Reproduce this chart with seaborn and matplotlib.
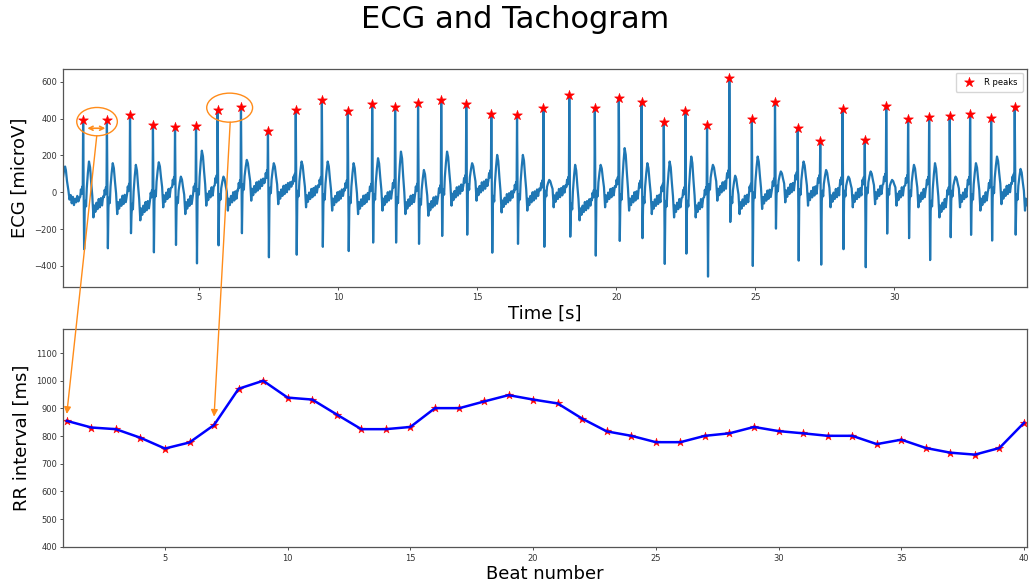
import numpy as np
import pandas as pd
import matplotlib
matplotlib.use("Agg")
import matplotlib.pyplot as plt
import seaborn as sns
from matplotlib.patches import Ellipse, ConnectionPatch

# ---------------------------------------------------------------- data
# RR intervals between consecutive R peaks (ms), beats 1..40
rr_ms = [855, 831, 825, 794, 755, 777, 840, 971, 1000, 939,
         932, 878, 825, 825, 833, 901, 901, 925, 948, 932,
         918, 863, 817, 801, 778, 778, 801, 810, 833, 818,
         810, 801, 801, 771, 787, 757, 740, 733, 757, 848]
beat_numbers = list(range(1, len(rr_ms) + 1))

# time of the first detected R peak (s)
first_r_s = 0.82

# R peak amplitudes (microV)
r_amp = [395, 395, 420, 365, 355, 361, 446, 462, 334, 448,
         499, 444, 482, 466, 488, 499, 479, 428, 419, 459,
         530, 459, 515, 493, 381, 444, 366, 620, 397, 491,
         348, 279, 452, 286, 471, 397, 408, 415, 426, 403, 466]
# S wave troughs (microV)
s_amp = [-310, -305, -223, -327, -287, -387, -289, -223, -354, -340,
         -297, -320, -274, -274, -281, -238, -231, -329, -281, -297,
         -242, -345, -265, -250, -390, -334, -459, -162, -401, -198,
         -372, -394, -310, -408, -225, -250, -369, -245, -232, -263, -231]
# T wave peaks (microV)
t_amp = [167, 158, 149, 163, 85, 226, 85, 176, 158, 167,
         167, 158, 185, 221, 121, 221, 158, 203, 203, 67,
         149, 149, 240, 158, 167, 194, 149, 90, 194, 113,
         167, 121, 85, 113, 67, 149, 158, 85, 158, 194, 127]
# baseline level following each beat (microV)
baseline = [-42, -24, -58, 13, -24, 22, -5, 49, 30, 13,
            -5, -24, -5, -24, -33, 22, 49, -15, -5, 13,
            -58, 13, -5, -24, -42, -42, 49, -24, 4, 40,
            22, 13, 13, 30, 22, 13, -42, 13, -5, 30, -5]

# start of the record, before the first detected beat
lead_in_t = [0.05, 0.10, 0.14, 0.17, 0.20, 0.24, 0.29, 0.33, 0.37,
             0.41, 0.45, 0.49, 0.53, 0.57, 0.61, 0.65, 0.69]
lead_in_v = [60, 85, 125, 140, 120, 60, 10, -40, -15, -60, -25,
             -70, -35, -55, -20, -50, -30]

# shape of one heartbeat around its R peak: offsets (s) and levels
# relative to the surrounding baseline
pre_offsets = [-0.105, -0.08, -0.055, -0.035, -0.015]
pre_levels = [15, 55, 30, 70, 45]
s_offset = 0.035
qrs_offsets = [0.055, 0.08, 0.105]
qrs_levels = [-60, -5, -35]
# T wave: fraction of the T peak height above baseline
t_offsets = [0.13, 0.17, 0.21, 0.25, 0.29, 0.33]
t_fracs = [0.3, 0.7, 1.0, 0.85, 0.45, 0.1]
tail_offsets = [0.37, 0.40, 0.44, 0.48, 0.52, 0.56, 0.60, 0.64,
                0.68, 0.72, 0.76, 0.80, 0.84, 0.88, 0.92]
tail_levels = [-95, -30, -65, -15, -50, 5, -40, 10,
               -30, 20, -15, 25, 0, 30, 5]

# ---------------------------------------------------------------- trace
r_times = first_r_s + np.concatenate([[0.0], np.cumsum(rr_ms) / 1000.0])
t_end = 34.8

ecg_t = list(lead_in_t)
ecg_v = list(lead_in_v)
for k, tr in enumerate(r_times):
    prev_b = baseline[k - 1] if k > 0 else -40
    b = baseline[k]
    for off, lev in zip(pre_offsets, pre_levels):
        ecg_t.append(tr + off); ecg_v.append(prev_b + lev)
    ecg_t.append(tr); ecg_v.append(r_amp[k])
    ecg_t.append(tr + s_offset); ecg_v.append(s_amp[k])
    limit = r_times[k + 1] - 0.115 if k + 1 < len(r_times) else t_end
    for off, lev in zip(qrs_offsets, qrs_levels):
        if tr + off < limit:
            ecg_t.append(tr + off); ecg_v.append(b + lev)
    for off, frac in zip(t_offsets, t_fracs):
        if tr + off < limit:
            ecg_t.append(tr + off); ecg_v.append(b + frac * (t_amp[k] - b))
    for off, lev in zip(tail_offsets, tail_levels):
        if tr + off < limit:
            ecg_t.append(tr + off); ecg_v.append(b + lev)

ecg = pd.DataFrame({"time": ecg_t, "ecg": ecg_v})
peaks = pd.DataFrame({"time": r_times, "amp": r_amp})
tacho = pd.DataFrame({"beat": beat_numbers, "rr": rr_ms})

# ---------------------------------------------------------------- figure
plt.rcParams["font.family"] = ["DejaVu Sans"]
fig = plt.figure(figsize=(10.3, 5.86), dpi=100)
ax1 = fig.add_axes([0.0615, 0.5107, 0.9353, 0.3724])
ax2 = fig.add_axes([0.0615, 0.0660, 0.9353, 0.3721])

orange = "#ff8c1a"

# ECG with R peaks
sns.lineplot(data=ecg, x="time", y="ecg", ax=ax1, color="#1f77b4",
             linewidth=1.6, sort=False, estimator=None)
sns.scatterplot(data=peaks, x="time", y="amp", ax=ax1, marker="*", s=55,
                color="red", edgecolor="red", linewidth=0.4,
                label="R peaks", zorder=3)
ax1.set_xlim(0.108, 34.76)
ax1.set_ylim(-514, 673)
ax1.set_xticks([5, 10, 15, 20, 25, 30])
ax1.set_yticks([-400, -200, 0, 200, 400, 600])
ax1.set_xlabel("Time [s]", fontsize=13, labelpad=2)
ax1.set_ylabel("ECG [microV]", fontsize=13, labelpad=4)
ax1.legend(loc="upper right", fontsize=6, markerscale=1.0,
           handletextpad=0.8, borderpad=0.6, framealpha=0.8)

# highlight the first RR interval and a later pair of beats
ax1.add_patch(Ellipse((1.32, 384), width=1.46, height=154, fill=False,
                      edgecolor=orange, linewidth=1.0, zorder=4))
ax1.add_patch(Ellipse((6.09, 460), width=1.65, height=158, fill=False,
                      edgecolor=orange, linewidth=1.0, zorder=4))
ax1.annotate("", xy=(0.97, 348), xytext=(1.62, 348),
             arrowprops=dict(arrowstyle="<->", color=orange, lw=1.2,
                             mutation_scale=7, shrinkA=0, shrinkB=0))

# tachogram
sns.scatterplot(data=tacho, x="beat", y="rr", ax=ax2, marker="*", s=40,
                color="red", edgecolor="red", linewidth=0.3, zorder=2)
sns.lineplot(data=tacho, x="beat", y="rr", ax=ax2, color="blue",
             linewidth=1.8, sort=False, estimator=None, zorder=3)
ax2.set_xlim(0.86, 40.11)
ax2.set_ylim(398, 1186)
ax2.set_xticks([5, 10, 15, 20, 25, 30, 35, 40])
ax2.set_yticks(list(range(400, 1101, 100)))
ax2.set_xlabel("Beat number", fontsize=13, labelpad=2)
ax2.set_ylabel("RR interval [ms]", fontsize=13, labelpad=4)

for ax in (ax1, ax2):
    ax.tick_params(labelsize=6, length=2.5, width=0.6, pad=2,
                   colors="#333333")
    for sp in ax.spines.values():
        sp.set_color("#555555")
        sp.set_linewidth(0.9)

# arrows from the highlighted beats to their RR values
for (xa, ya), (xb, yb) in [((1.31, 307), (1.0, 880)),
                           ((6.11, 381), (7.0, 870))]:
    con = ConnectionPatch(xyA=(xa, ya), coordsA=ax1.transData,
                          xyB=(xb, yb), coordsB=ax2.transData,
                          arrowstyle="-|>", color=orange, lw=1.0,
                          mutation_scale=10, shrinkA=0, shrinkB=0,
                          zorder=5)
    fig.add_artist(con)

fig.suptitle("ECG and Tachogram", fontsize=22, y=0.966, va="center")

fig.savefig("out.png", dpi=100)
